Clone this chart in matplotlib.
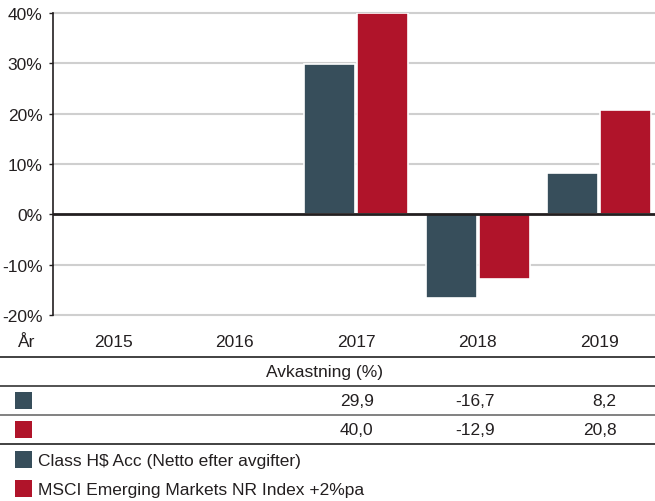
import numpy as np
import matplotlib
matplotlib.use("Agg")
import matplotlib.pyplot as plt
from matplotlib.transforms import blended_transform_factory
from matplotlib.patches import Rectangle

years = ["2015", "2016", "2017", "2018", "2019"]
fund = [np.nan, np.nan, 29.9, -16.7, 8.2]
index = [np.nan, np.nan, 40.0, -12.9, 20.8]
fund_labels = ["", "", "29,9", "-16,7", "8,2"]
index_labels = ["", "", "40,0", "-12,9", "20,8"]
series_names = ["Class H$ Acc (Netto efter avgifter)", "MSCI Emerging Markets NR Index +2%pa"]
yticks = [-20, -10, 0, 10, 20, 30, 40]
ytick_labels = ["-20%", "-10%", "0%", "10%", "20%", "30%", "40%"]

C_FUND = "#374e5b"
C_INDEX = "#b0142a"
TXT = "#231f20"
FS = 12.5

plt.rcParams["font.family"] = ["Liberation Sans", "DejaVu Sans"]

W, H = 655, 502
fig = plt.figure(figsize=(W / 100, H / 100), dpi=100)

def fx(px):
    return px / W

def fy(py):
    return 1 - py / H

ax_left, ax_right, ax_top, ax_bot = 53, 655, 14, 316
ax = fig.add_axes([fx(ax_left), fy(ax_bot), fx(ax_right - ax_left), (ax_bot - ax_top) / H])

x = np.arange(len(years))
bw = 0.42
ax.bar(x - bw / 2 - 0.008, fund, width=bw, color=C_FUND, edgecolor="white", linewidth=1.2, zorder=3)
ax.bar(x + bw / 2 + 0.008, index, width=bw, color=C_INDEX, edgecolor="white", linewidth=1.2, zorder=3)

ax.set_xlim(-0.494, 4.46)
ax.set_ylim(-20, 40)
ax.set_yticks(yticks)
ax.set_yticklabels(ytick_labels, fontsize=FS, color=TXT)
ax.set_xticks([])
ax.tick_params(axis="y", length=3, width=1, color=TXT, pad=4.5)
for t in yticks:
    if t != 0:
        ax.axhline(t, color="#cfcfcf", lw=1.5, zorder=1, clip_on=False)
ax.axhline(0, color=TXT, lw=2, zorder=4)
for s in ["top", "right", "bottom"]:
    ax.spines[s].set_visible(False)
ax.spines["left"].set_color(TXT)
ax.spines["left"].set_linewidth(1.2)
ax.spines["left"].set_zorder(5)

# table
tr = blended_transform_factory(ax.transData, fig.transFigure)
fig.text(fx(18), fy(343), "År", ha="left", va="center", fontsize=FS, color=TXT)
for i, yr in enumerate(years):
    fig.text(x[i], fy(343), yr, transform=tr, ha="center", va="center", fontsize=FS, color=TXT)
fig.text(0.496, fy(373), "Avkastning (%)", ha="center", va="center", fontsize=FS, color=TXT)
for i in range(len(years)):
    fig.text(x[i] + 0.145, fy(401.5), fund_labels[i], transform=tr, ha="right", va="center", fontsize=FS, color=TXT)
    fig.text(x[i] + 0.145, fy(430.5), index_labels[i], transform=tr, ha="right", va="center", fontsize=FS, color=TXT)

for py, col, lw in [(358, "#333333", 1.3), (387, "#444444", 1.3), (416, "#777777", 1.3), (445, "#333333", 1.3)]:
    fig.add_artist(plt.Line2D([0, 1], [fy(py), fy(py)], color=col, lw=lw))

def square(px, py_top, color):
    fig.add_artist(Rectangle((fx(px), fy(py_top + 17)), fx(17.5), 17 / H, color=color, lw=0))

square(14.5, 393, C_FUND)
square(14.5, 422, C_INDEX)
square(14.5, 452, C_FUND)
square(14.5, 481, C_INDEX)
fig.text(fx(38), fy(461.5), series_names[0], ha="left", va="center", fontsize=FS, color=TXT)
fig.text(fx(38), fy(490.5), series_names[1], ha="left", va="center", fontsize=FS, color=TXT)

fig.savefig("out.png", dpi=100)
